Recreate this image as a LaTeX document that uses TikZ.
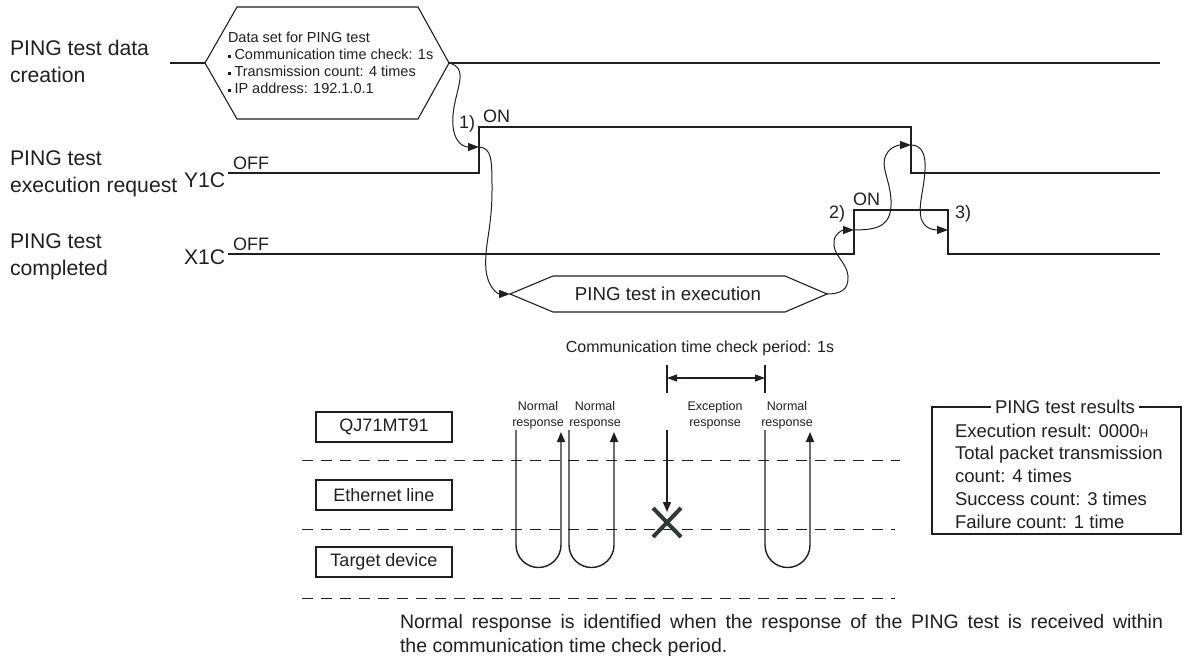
\documentclass[tikz,border=0pt]{standalone}
\usepackage{fontspec}
\setmainfont{Liberation Sans}
\usetikzlibrary{arrows.meta}
\definecolor{ink}{RGB}{35,31,32}
\definecolor{xcol}{RGB}{45,58,52}
\newcommand\pbul{\rule[2.3pt]{3pt}{3pt}\hspace{3.5pt}}
\begin{document}
\begin{tikzpicture}[x=1pt,y=-1pt,
  every node/.style={text=ink,inner sep=0pt,outer sep=0pt},
  sig/.style={draw=ink,line width=1.1pt},
  big/.style={font=\fontsize{21.2}{27}\selectfont},
  mid/.style={font=\fontsize{18.5}{22.7}\selectfont},
  onoff/.style={font=\fontsize{18}{18}\selectfont},
  small/.style={font=\fontsize{14.5}{17}\selectfont},
  tiny/.style={font=\fontsize{12.5}{16}\selectfont},
  link/.style={draw=ink,line width=1pt,-{Triangle[length=11pt,width=8pt]}},
  hexa/.style={draw=ink,line width=1.1pt},
  lane/.style={draw=ink,line width=1pt,dash pattern=on 11pt off 8pt},
  devbox/.style={draw=ink,line width=1.3pt,minimum width=136pt,minimum height=30pt,font=\fontsize{18}{18}\selectfont},
  flow/.style={draw=ink,line width=1.4pt,-{Triangle[length=10pt,width=8pt]}},
  dimarrow/.style={draw=ink,line width=1.2pt,{Triangle[length=10pt,width=7pt]}-{Triangle[length=10pt,width=7pt]}},
]
\useasboundingbox (0,0) rectangle (1193,664);

% ---------- left labels ----------
\node[big,align=left,anchor=west] (lab1) at (10,61.5) {PING test data\\creation};
\node[big,align=left,anchor=west] (lab2) at (10,173.5) {PING test\\execution request};
\node[big,align=left,anchor=west] (lab3) at (10,256.5) {PING test\\completed};
\node[big,anchor=base west] (y1c) at (184,187) {Y1C};
\node[big,anchor=base west] (x1c) at (184,264) {X1C};
\node[onoff,anchor=base west] (off1) at (233,169) {OFF};
\node[onoff,anchor=base west] (off2) at (233,250) {OFF};
\node[onoff,anchor=base west] (on1) at (483,122) {ON};
\node[onoff,anchor=base west] (on2) at (853,205) {ON};
\node[onoff] (n1) at (467,124) {1)};
\node[onoff] (n2) at (837,214) {2)};
\node[onoff] (n3) at (963,214) {3)};

% ---------- data creation ----------
\coordinate (dL) at (205,63);
\coordinate (dR) at (449,63);
\draw[hexa] (dL) -- (237,7) -- (418,7) -- (dR) -- (418,119) -- (237,119) -- cycle;
\node[small,align=left,anchor=north west] (dtext) at (228,32.5)
  {Data set for PING test\\\pbul Communication time check: 1s\\\pbul Transmission count: 4 times\\\pbul IP address: 192.1.0.1};
\coordinate (d0) at (170,63);
\coordinate (d9) at (1160,63);
\draw[sig] (d0) -- (dL);
\draw[sig] (dR) -- (d9);

% ---------- Y1C ----------
\coordinate (y0) at (228,173);
\coordinate (yr) at (479,173);
\coordinate (yh) at (479,127);
\coordinate (yf) at (911,127);
\coordinate (yl) at (911,173);
\coordinate (y9) at (1160,173);
\draw[sig] (y0) -- (yr) -- (yh) -- (yf) -- (yl) -- (y9);

% ---------- X1C ----------
\coordinate (x0) at (228,254);
\coordinate (xr) at (854,254);
\coordinate (xh) at (854,210);
\coordinate (xf) at (948,210);
\coordinate (xl) at (948,254);
\coordinate (x9) at (1160,254);
\draw[sig] (x0) -- (xr) -- (xh) -- (xf) -- (xl) -- (x9);

% ---------- execution ----------
\coordinate (eL) at (510,294);
\coordinate (eR) at (827,294);
\draw[hexa] (eL) -- (553,276) -- (785,276) -- (eR) -- (785,312) -- (553,312) -- cycle;
\node[font=\fontsize{18.7}{18.7}\selectfont] (exec) at (668,294) {PING test in execution};

% ---------- handshake curves ----------
\coordinate (r1) at (479,147);
\coordinate (r2) at (854,230);
\coordinate (f1) at (911,145);
\coordinate (f2) at (948,230);
\draw[link] (dR) .. controls (470,68) and (455,90) .. (453,115) .. controls (451,140) and (462,147) .. (r1);
\draw[link] (r1) .. controls (492,148) and (492,160) .. (492,190) .. controls (492,230) and (484,245) .. (486,270) .. controls (488,288) and (498,294) .. (eL);
\draw[link] (eR) .. controls (840,294) and (849,290) .. (848,276) .. controls (847,262) and (832,255) .. (834,241) .. controls (835,233) and (843,230) .. (r2);
\draw[link] (r2) .. controls (880,230) and (892,225) .. (891,200) .. controls (890,180) and (880,166) .. (886,155) .. controls (890,147) and (898,145) .. (f1);
\draw[link] (f1) .. controls (922,145) and (926,155) .. (925,170) .. controls (924,190) and (918,205) .. (921,218) .. controls (924,228) and (932,230) .. (f2);

% ---------- communication period ----------
\node[font=\fontsize{16}{16}\selectfont] (period) at (700,348) {Communication time check period: 1s};
\coordinate (t1a) at (667,365); \coordinate (t1b) at (667,393);
\coordinate (t2a) at (765,365); \coordinate (t2b) at (765,393);
\draw[draw=ink,line width=1.3pt] (t1a) -- (t1b);
\draw[draw=ink,line width=1.3pt] (t2a) -- (t2b);
\coordinate (da) at (667,378); \coordinate (db) at (765,378);
\draw[dimarrow] (da) -- (db);

% ---------- device rows ----------
\node[devbox] (qj) at (384,427) {QJ71MT91};
\node[devbox] (eth) at (384,495) {Ethernet line};
\node[devbox] (tgt) at (384,562) {Target device};
\coordinate (l1a) at (302,460); \coordinate (l1b) at (900,460);
\coordinate (l2a) at (302,529); \coordinate (l2b) at (895,529);
\coordinate (l3a) at (302,598); \coordinate (l3b) at (895,598);
\draw[lane] (l1a) -- (l1b);
\draw[lane] (l2a) -- (l2b);
\draw[lane] (l3a) -- (l3b);

% loops
\draw[flow] (516,430) -- (516,545) arc[start angle=180,end angle=0,radius=22.5] -- (561,432);
\draw[flow] (569,430) -- (569,545) arc[start angle=180,end angle=0,radius=22.5] -- (614,432);
\draw[flow] (765,430) -- (765,545) arc[start angle=180,end angle=0,radius=22.5] -- (810,432);
\coordinate (ex0) at (667,430); \coordinate (ex1) at (667,512);
\draw[flow] (ex0) -- (ex1);
\draw[draw=xcol,line width=4pt] (653,508) -- (681,537);
\draw[draw=xcol,line width=4pt] (653,537) -- (681,508);

\node[tiny,align=center] (r1lab) at (538,415) {Normal\\response};
\node[tiny,align=center] (r2lab) at (595,415) {Normal\\response};
\node[tiny,align=center] (r3lab) at (715,415) {Exception\\response};
\node[tiny,align=center] (r4lab) at (787,415) {Normal\\response};

% ---------- results box ----------
\draw[draw=ink,line width=1.2pt] (932,407) rectangle (1181,534);
\node[font=\fontsize{18.5}{18.5}\selectfont,fill=white,inner xsep=4pt,inner ysep=1pt] (restitle) at (1065,407) {PING test results};
\node[mid,align=left,anchor=west] (res) at (955,476)
  {Execution result: 0000{\fontsize{11.5}{11.5}\selectfont H}\\Total packet transmission\\count: 4 times\\Success count: 3 times\\Failure count: 1 time};

% ---------- note ----------
\node[font=\fontsize{19.5}{24}\selectfont,text width=763pt,align=justify,anchor=west] (note) at (400,635)
  {Normal response is identified when the response of the PING test is received within\linebreak the communication time check period.};
\end{tikzpicture}
\end{document}
